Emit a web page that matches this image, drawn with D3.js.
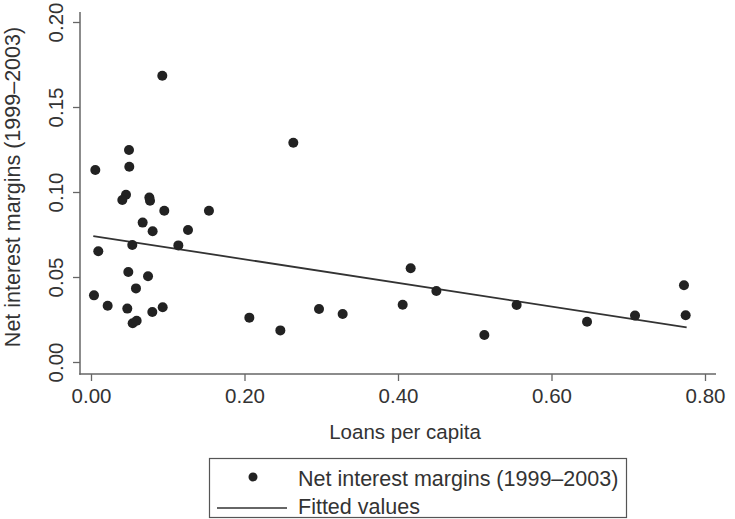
<!DOCTYPE html>
<html>
<head>
<meta charset="utf-8">
<script src="https://cdn.jsdelivr.net/npm/d3@7/dist/d3.min.js"></script>
<style>
  html, body { margin: 0; padding: 0; background: #fff; }
  svg { display: block; }
  text { font-family: "Liberation Sans", Arial, Helvetica, sans-serif; fill: #333; }
</style>
</head>
<body>
<svg id="chart" width="735" height="519"></svg>
<script>
// Loans per capita (x) and Net interest margins 1999–2003 (y)
const loansPerCapita = [
  0.0929, 0.2636, 0.0495, 0.0499, 0.0056, 0.0456, 0.0408, 0.0760, 0.0769, 0.0955,
  0.1537, 0.0673, 0.0803, 0.1264, 0.0538, 0.1138, 0.0095, 0.0486, 0.0743, 0.0586,
  0.0039, 0.0217, 0.0473, 0.0799, 0.0934, 0.0543, 0.0595, 0.2063, 0.2467, 0.2971,
  0.3279, 0.4061, 0.4165, 0.4500, 0.5125, 0.5546, 0.6463, 0.7088, 0.7726, 0.7748
];
const netInterestMargins = [
  0.1684, 0.1290, 0.1247, 0.1149, 0.1129, 0.0984, 0.0953, 0.0967, 0.0949, 0.0890,
  0.0890, 0.0820, 0.0769, 0.0776, 0.0688, 0.0686, 0.0651, 0.0529, 0.0504, 0.0433,
  0.0392, 0.0331, 0.0314, 0.0294, 0.0322, 0.0228, 0.0243, 0.0261, 0.0186, 0.0312,
  0.0282, 0.0337, 0.0551, 0.0418, 0.0159, 0.0335, 0.0237, 0.0273, 0.0451, 0.0275
];
// Fitted values line endpoints
const fittedX = [0.0030, 0.7761];
const fittedY = [0.0741, 0.0204];

const xTicks = [0, 0.2, 0.4, 0.6, 0.8];
const yTicks = [0, 0.05, 0.1, 0.15, 0.2];
const xTitle = "Loans per capita";
const yTitle = "Net interest margins (1999\u20132003)";
const legendLabels = ["Net interest margins (1999\u20132003)", "Fitted values"];

const svg = d3.select("#chart");
const x = d3.scaleLinear().domain([0, 0.8]).range([91, 705]);
const y = d3.scaleLinear().domain([0, 0.2]).range([362, 22]);

const axisColor = "#666";
const axisX0 = 80, axisY0 = 374;

// axis lines
svg.append("line").attr("x1", axisX0).attr("x2", axisX0).attr("y1", 12).attr("y2", axisY0 + 0.75)
  .attr("stroke", axisColor).attr("stroke-width", 1.5);
svg.append("line").attr("x1", axisX0 - 0.75).attr("x2", 716).attr("y1", axisY0).attr("y2", axisY0)
  .attr("stroke", axisColor).attr("stroke-width", 1.5);

// x axis
const gx = svg.append("g").attr("transform", `translate(0,${axisY0})`)
  .call(d3.axisBottom(x).tickValues(xTicks).tickFormat(d3.format(".2f")).tickSize(7).tickSizeOuter(0));
gx.select(".domain").remove();
gx.selectAll(".tick line").attr("stroke", axisColor).attr("stroke-width", 1.3);
gx.selectAll(".tick text").attr("y", 29).attr("dy", 0)
  .style("font-size", "20.5px").style("font-family", "Liberation Sans, Arial, sans-serif").attr("fill", "#333");

// y axis
const gy = svg.append("g").attr("transform", `translate(${axisX0},0)`)
  .call(d3.axisLeft(y).tickValues(yTicks).tickFormat(d3.format(".2f")).tickSize(7).tickSizeOuter(0));
gy.select(".domain").remove();
gy.selectAll(".tick line").attr("stroke", axisColor).attr("stroke-width", 1.3);
gy.selectAll(".tick text")
  .attr("x", 0).attr("y", -17).attr("dy", 0)
  .attr("transform", "rotate(-90)")
  .attr("text-anchor", "middle")
  .style("font-size", "20.5px").style("font-family", "Liberation Sans, Arial, sans-serif").attr("fill", "#333");

// axis titles
svg.append("text").attr("x", 405).attr("y", 439).attr("text-anchor", "middle")
  .style("font-size", "20.5px").text(xTitle);
svg.append("text").attr("transform", "translate(20,187) rotate(-90)").attr("text-anchor", "middle")
  .style("font-size", "21.5px").text(yTitle);

// fitted line
svg.append("line")
  .attr("x1", x(fittedX[0])).attr("y1", y(fittedY[0]))
  .attr("x2", x(fittedX[1])).attr("y2", y(fittedY[1]))
  .attr("stroke", "#333").attr("stroke-width", 1.8);

// points
const pts = loansPerCapita.map((v, i) => ({ x: v, y: netInterestMargins[i] }));
svg.append("g").selectAll("circle").data(pts).join("circle")
  .attr("cx", d => x(d.x)).attr("cy", d => y(d.y)).attr("r", 5)
  .attr("fill", "#222");

// legend
const lg = svg.append("g");
lg.append("rect").attr("x", 209.5).attr("y", 458.5).attr("width", 417).attr("height", 59)
  .attr("fill", "none").attr("stroke", "#555").attr("stroke-width", 1.2);
lg.append("circle").attr("cx", 253).attr("cy", 477).attr("r", 4.5).attr("fill", "#222");
lg.append("line").attr("x1", 217).attr("x2", 287).attr("y1", 508).attr("y2", 508)
  .attr("stroke", "#333").attr("stroke-width", 1.5);
lg.append("text").attr("x", 298).attr("y", 486).style("font-size", "21.5px").text(legendLabels[0]);
lg.append("text").attr("x", 298).attr("y", 514).style("font-size", "21.5px").text(legendLabels[1]);
</script>
</body>
</html>
